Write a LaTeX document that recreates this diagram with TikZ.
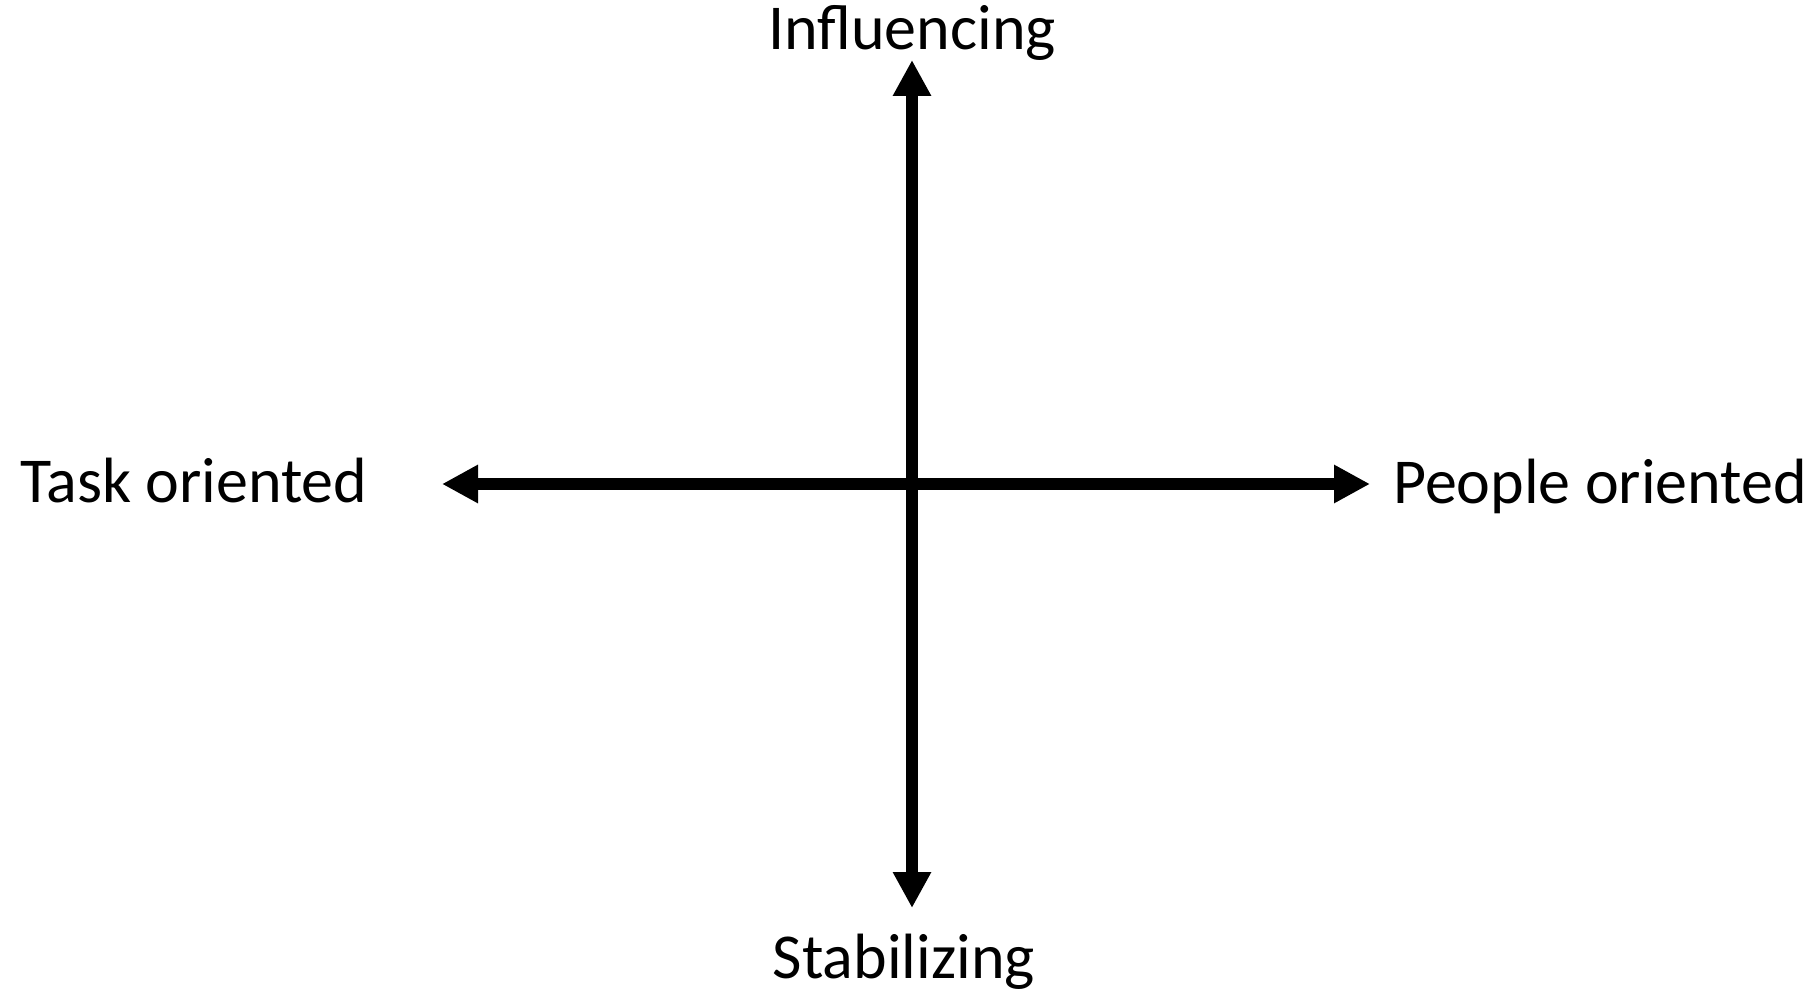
\documentclass[tikz,border=0pt]{standalone}
\usepackage{fontspec}
\setmainfont{Carlito}
\usetikzlibrary{arrows.meta}
\begin{document}
\begin{tikzpicture}[x=1pt,y=1pt,
  axis/.style={line width=12pt,{Triangle[length=36pt,width=36pt]}-{Triangle[length=36pt,width=36pt]}},
  lbl/.style={inner sep=0pt,anchor=base,font=\fontsize{64}{76}\selectfont}]
\useasboundingbox (0,0) rectangle (1814,991);
\coordinate (top) at (912,931);
\coordinate (bot) at (912,83);
\coordinate (lft) at (442,507);
\coordinate (rgt) at (1370,507);
\draw[axis] (bot) -- (top);
\draw[axis] (lft) -- (rgt);
\node[lbl] (infl) at (912,941) {Influencing};
\node[lbl] (stab) at (904,13) {Stabilizing};
\node[lbl,anchor=base west] (task) at (20,488) {Task oriented};
\node[lbl,anchor=base west] (people) at (1393,487) {People oriented};
\end{tikzpicture}
\end{document}
